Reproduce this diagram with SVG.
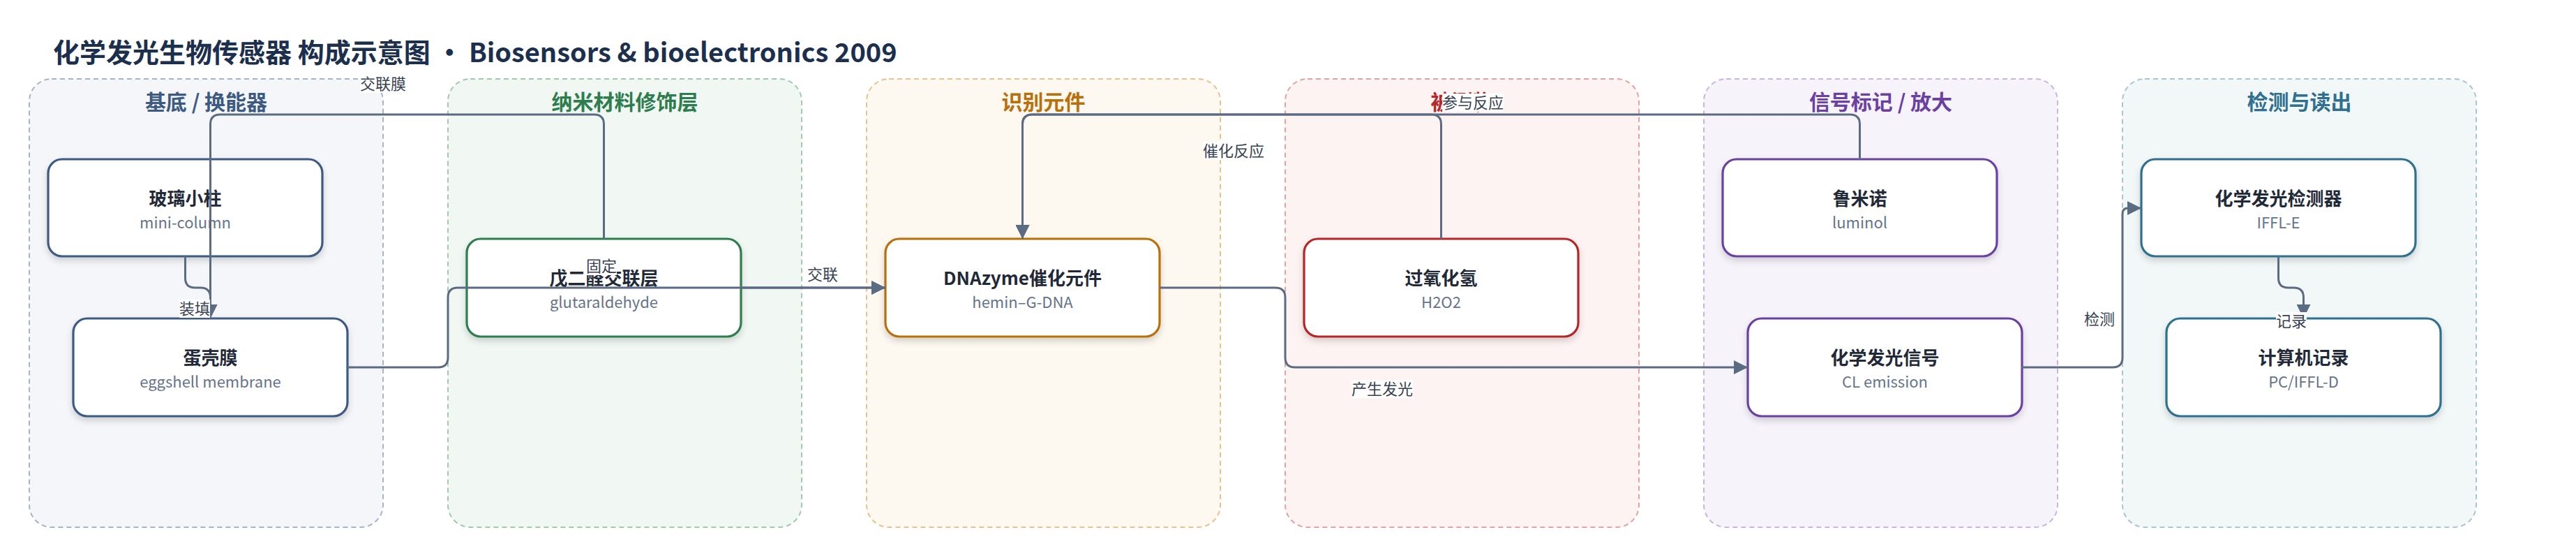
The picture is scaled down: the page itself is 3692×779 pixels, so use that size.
<svg xmlns="http://www.w3.org/2000/svg" width="3692" height="779" viewBox="0 0 3692 779">
<defs>
<style>
text{font-family:"Noto Sans CJK SC","Noto Sans",sans-serif}
.title{font-size:38px;font-weight:700;fill:#1c2f4d}
.ct{font-size:30px;font-weight:700;text-anchor:middle}
.cl{stroke-width:2;stroke-dasharray:7 5}
.nb{fill:#fff;stroke-width:3.2;filter:url(#sh)}
.nt{font-size:26px;font-weight:700;fill:#1f2937;text-anchor:middle}
.ns{font-size:22px;fill:#64748b;text-anchor:middle}
.e{fill:none;stroke:#5b6b82;stroke-width:3}
.ea{marker-end:url(#arr)}
.lb{fill:#fff}
.lt{font-size:22px;fill:#374151;text-anchor:middle}
</style>
<filter id="sh" x="-10%" y="-10%" width="120%" height="130%">
<feDropShadow dx="0" dy="5" stdDeviation="5" flood-color="#000" flood-opacity="0.16"/>
</filter>
<marker id="arr" viewBox="0 0 20 20" refX="20" refY="10" markerWidth="20" markerHeight="20" markerUnits="userSpaceOnUse" orient="auto">
<path d="M0,0 L20,10 L0,20 z" fill="#5b6b82"/>
</marker>
</defs>
<rect width="3692" height="779" fill="#fff"/>
<text class="title" x="76" y="89">化学发光生物传感器 构成示意图 • Biosensors &amp; bioelectronics 2009</text>

<g id="clusters">
<g id="c1"><rect class="cl" x="42" y="113" width="507" height="642" rx="32" fill="#f4f6fa" stroke="#a7b4c6"/><text class="ct" x="295.5" y="157" fill="#3c5a82">基底 / 换能器</text></g>
<g id="c2"><rect class="cl" x="642" y="113" width="507" height="642" rx="32" fill="#f1f8f3" stroke="#9fcab0"/><text class="ct" x="895.5" y="157" fill="#2e7d4e">纳米材料修饰层</text></g>
<g id="c3"><rect class="cl" x="1242" y="113" width="507" height="642" rx="32" fill="#fdf8f0" stroke="#e6c38e"/><text class="ct" x="1495.5" y="157" fill="#b8700a">识别元件</text></g>
<g id="c4"><rect class="cl" x="1842" y="113" width="507" height="642" rx="32" fill="#fdf3f2" stroke="#e4a3a3"/><text class="ct" x="2095.5" y="157" fill="#b5282a">被测物</text></g>
<g id="c5"><rect class="cl" x="2442" y="113" width="507" height="642" rx="32" fill="#f7f3fb" stroke="#c9b5e1"/><text class="ct" x="2695.5" y="157" fill="#6a40a0">信号标记 / 放大</text></g>
<g id="c6"><rect class="cl" x="3042" y="113" width="507" height="642" rx="32" fill="#f2f7f8" stroke="#a9c5d0"/><text class="ct" x="3295.5" y="157" fill="#2f6f8f">检测与读出</text></g>
</g>

<g id="n1"><rect class="nb" x="69" y="228" width="393" height="139" rx="20" stroke="#3c5a82"/><text class="nt" x="265.5" y="294">玻璃小柱</text><text class="ns" x="265.5" y="327">mini-column</text></g>
<g id="n2"><rect class="nb" x="105" y="456" width="393" height="140" rx="20" stroke="#3c5a82"/><text class="nt" x="301.5" y="522">蛋壳膜</text><text class="ns" x="301.5" y="555">eggshell membrane</text></g>
<g id="n3"><rect class="nb" x="669" y="342" width="393" height="140" rx="20" stroke="#2e7d4e"/><text class="nt" x="865.5" y="408">戊二醛交联层</text><text class="ns" x="865.5" y="441">glutaraldehyde</text></g>
<g id="n4"><rect class="nb" x="1269" y="342" width="393" height="140" rx="20" stroke="#b8700a"/><text class="nt" x="1465.5" y="408">DNAzyme催化元件</text><text class="ns" x="1465.5" y="441">hemin–G-DNA</text></g>
<g id="n5"><rect class="nb" x="1869" y="342" width="393" height="140" rx="20" stroke="#b5282a"/><text class="nt" x="2065.5" y="408">过氧化氢</text><text class="ns" x="2065.5" y="441">H2O2</text></g>
<g id="n6"><rect class="nb" x="2469" y="228" width="393" height="139" rx="20" stroke="#6a40a0"/><text class="nt" x="2665.5" y="294">鲁米诺</text><text class="ns" x="2665.5" y="327">luminol</text></g>
<g id="n7"><rect class="nb" x="2505" y="456" width="393" height="140" rx="20" stroke="#6a40a0"/><text class="nt" x="2701.5" y="522">化学发光信号</text><text class="ns" x="2701.5" y="555">CL emission</text></g>
<g id="n8"><rect class="nb" x="3069" y="228" width="393" height="139" rx="20" stroke="#2f6f8f"/><text class="nt" x="3265.5" y="294">化学发光检测器</text><text class="ns" x="3265.5" y="327">IFFL-E</text></g>
<g id="n9"><rect class="nb" x="3105" y="456" width="393" height="140" rx="20" stroke="#2f6f8f"/><text class="nt" x="3301.5" y="522">计算机记录</text><text class="ns" x="3301.5" y="555">PC/IFFL-D</text></g>

<g id="connectors">
<path class="e ea" d="M265.5,367 V398 Q265.5,412 279.5,412 H287.5 Q301.5,412 301.5,426 V456"/>
<path class="e ea" d="M865.5,342 V178 Q865.5,164 851.5,164 H315.5 Q301.5,164 301.5,178 V456"/>
<path class="e ea" d="M498,526 H628 Q642,526 642,512 V426 Q642,412 656,412 H1269"/>
<path class="e ea" d="M1062,412 H1269"/>
<path class="e ea" d="M1662,412 H1828 Q1842,412 1842,426 V512 Q1842,526 1856,526 H2505"/>
<path class="e ea" d="M2065.5,342 V178 Q2065.5,164 2051.5,164 H1479.5 Q1465.5,164 1465.5,178 V342"/>
<path class="e ea" d="M2665.5,228 V178 Q2665.5,164 2651.5,164 H1479.5 Q1465.5,164 1465.5,178 V342"/>
<path class="e ea" d="M2897,526 H3028 Q3042,526 3042,512 V306 Q3042,298 3050,298 H3069"/>
<path class="e ea" d="M3265.5,367 V398 Q3265.5,412 3279.5,412 H3287.5 Q3301.5,412 3301.5,426 V456"/>
<g id="labels">
<rect class="lb" x="257" y="429" width="44" height="26"/><text class="lt" x="279" y="450">装填</text>
<rect class="lb" x="516" y="107" width="66" height="26"/><text class="lt" x="549" y="128">交联膜</text>
<rect class="lb" x="840" y="368" width="44" height="26"/><text class="lt" x="862" y="389">固定</text>
<rect class="lb" x="1157" y="380" width="44" height="26"/><text class="lt" x="1179" y="401">交联</text>
<rect class="lb" x="1724" y="203" width="88" height="26"/><text class="lt" x="1768" y="224">催化反应</text>
<rect class="lb" x="2067" y="134" width="88" height="26"/><text class="lt" x="2111" y="155">参与反应</text>
<rect class="lb" x="1937" y="544" width="88" height="26"/><text class="lt" x="1981" y="565">产生发光</text>
<rect class="lb" x="2987" y="444" width="44" height="26"/><text class="lt" x="3009" y="465">检测</text>
<rect class="lb" x="3262" y="447" width="44" height="26"/><text class="lt" x="3284" y="468">记录</text>
</g>
</g>
</svg>
